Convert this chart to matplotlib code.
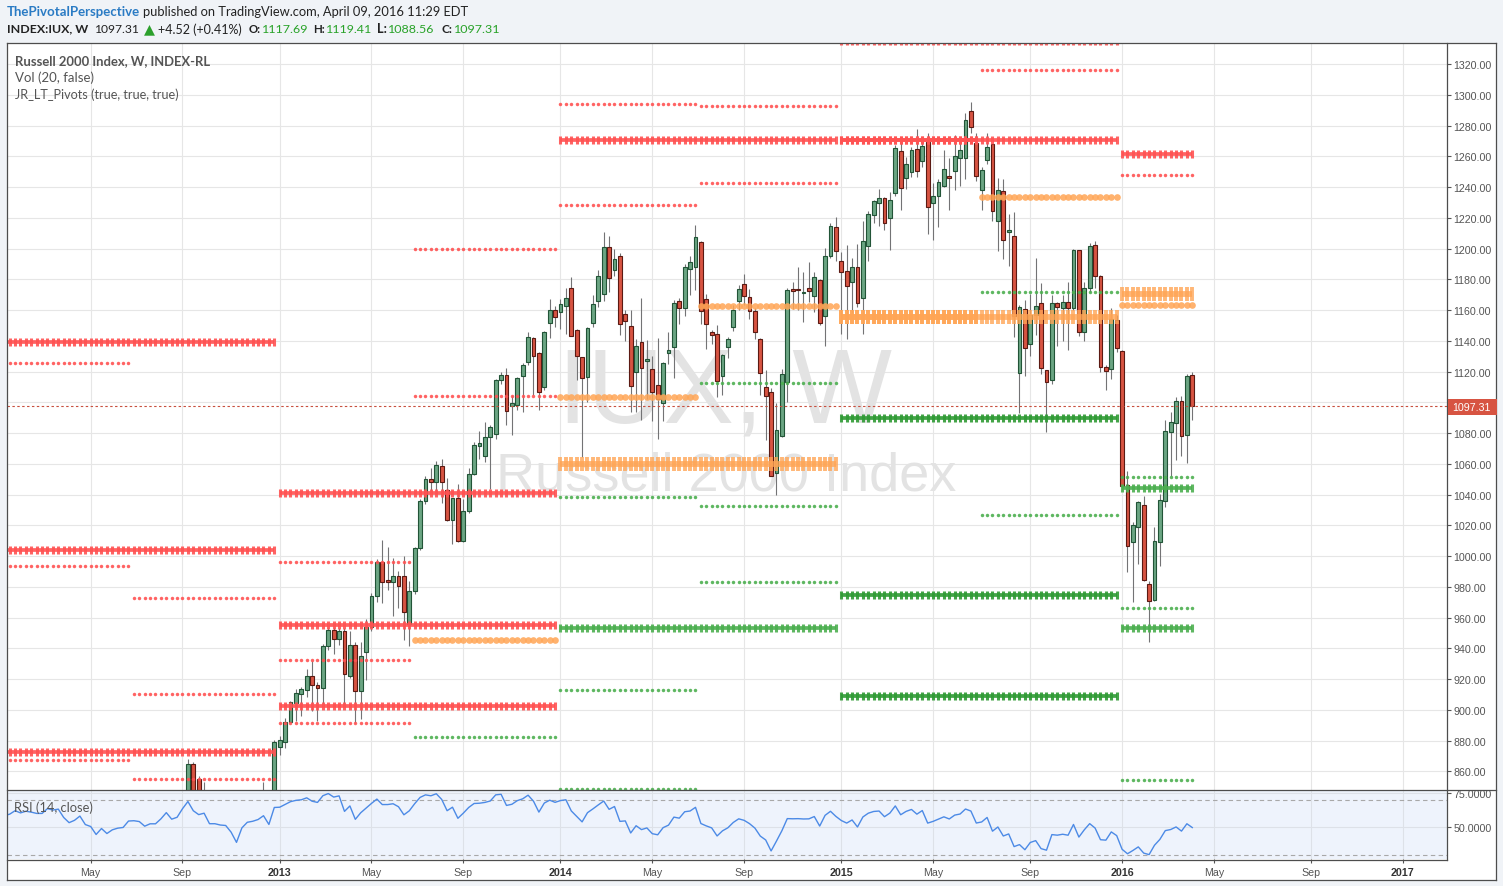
import numpy as np
import pandas as pd
import matplotlib
matplotlib.use("Agg")
import matplotlib.pyplot as plt
from matplotlib.patches import Rectangle
from matplotlib.lines import Line2D

plt.rcParams['font.family'] = ['Liberation Sans', 'DejaVu Sans']

# ------------------------------------------------------------------ data
first_bar_date = "2012-01-16"          # weekly bars (Monday dated)

opens = [
    # 2012 (Jan 16 .. Dec 24)
    769, 785, 793, 814, 806, 815, 812, 808, 808, 830, 826, 830, 808, 793, 801, 816, 792, 786, 760, 778,
    761, 772, 777, 779, 798, 799, 797, 786, 792, 792, 804, 821, 808, 813, 838, 864.7, 855, 838, 842, 818,
    818, 815, 814, 799, 771, 805, 821, 824, 830, 838,
    # Dec 31 2012 ..
    820, 875.6, 879.3, 892.3, 904.4, 910.5, 913.2, 922.2, 916.1, 914.0, 941.7, 951.9, 946.0, 951.1, 922.2,
    942.3, 912.0, 937.4, 954.0, 974.2, 995.9, 983.8, 983.3, 986.8, 986.8, 955.8, 977.0, 1005.0, 1035.6,
    1049.9, 1048.0, 1058.4, 1042.9, 1023.6, 1037.5, 1010.0, 1029.1, 1053.3, 1071.8, 1064.9, 1077.2, 1079.2,
    1114.7, 1117.7, 1097.8, 1098.5, 1117.3, 1126.0, 1141.6, 1131.8, 1109.7, 1151.6, 1159.8,
    # 2014
    1158.5, 1162.4, 1174.0, 1147.0, 1129.2, 1116.2, 1151.4, 1165.7, 1170.4, 1201.0, 1186.2, 1195.0, 1157.2,
    1149.4, 1119.9, 1139.0, 1126.6, 1121.6, 1111.2, 1099.5, 1131.8, 1135.8, 1165.7, 1161.1, 1187.0, 1187.8,
    1204.0, 1167.2, 1145.5, 1144.4, 1117.3, 1135.7, 1148.8, 1166.1, 1176.7, 1168.3, 1159.2, 1141.1, 1109.7,
    1106.4, 1053.8, 1077.9, 1113.0, 1173.7, 1173.3, 1170.9, 1174.1, 1169.3, 1179.5, 1156.3, 1195.0, 1213.8,
    # 2015
    1191.6, 1185.6, 1178.0, 1187.8, 1167.6, 1201.4, 1222.0, 1229.4, 1232.7, 1219.6, 1235.9, 1263.2, 1245.7,
    1249.6, 1264.7, 1256.7, 1269.1, 1229.4, 1234.0, 1240.9, 1247.2, 1250.6, 1258.7, 1258.7, 1289.2, 1268.4,
    1238.3, 1257.8, 1267.8, 1218.1, 1237.2, 1211.0, 1208.3, 1118.8, 1160.7, 1138.1, 1156.9, 1164.4, 1120.8,
    1114.7, 1164.4, 1161.1, 1165.0, 1161.1, 1198.8, 1145.5, 1174.1, 1202.1, 1182.0, 1122.8, 1121.6, 1153.5,
    # 2016
    1133.2, 1046.2, 1009.4, 1018.7, 1033.0, 981.6, 971.6, 1009.4, 1035.9, 1080.5, 1086.3, 1100.6, 1078.9,
    1117.69,
]
highs = [
    788, 798, 816, 818, 818, 822, 822, 812, 831, 833, 846, 833, 810, 810, 820, 826, 795, 790, 780, 782,
    776, 785, 794, 800, 812, 802, 807, 795, 800, 806, 822, 825, 818, 840, 868, 866, 857, 853, 843, 838,
    822, 826, 826, 804, 806, 825, 828, 840, 853, 841,
    880.5, 882.8, 894.5, 906.0, 913.4, 915.0, 926.8, 931.6, 918.0, 942.5, 953.6, 953.6, 953.0, 953.0, 951.0,
    944.4, 944.0, 958.9, 976.0, 998.0, 1010.3, 1006.0, 998.6, 990.0, 1000.0, 984.0, 1006.0, 1037.0, 1052.0,
    1057.0, 1062.0, 1063.3, 1051.0, 1038.0, 1047.0, 1037.0, 1057.3, 1074.0, 1081.5, 1087.0, 1085.0, 1115.0,
    1120.0, 1122.5, 1104.0, 1116.5, 1125.7, 1146.0, 1142.6, 1133.0, 1146.3, 1167.0, 1162.6,
    1167.0, 1174.0, 1181.2, 1147.5, 1129.5, 1148.9, 1170.0, 1186.0, 1211.0, 1208.0, 1199.5, 1197.0, 1160.0,
    1160.0, 1141.0, 1167.7, 1140.5, 1129.8, 1141.5, 1126.0, 1145.6, 1166.5, 1167.6, 1190.0, 1195.0, 1215.0,
    1205.0, 1170.5, 1147.0, 1150.2, 1131.4, 1142.2, 1163.3, 1176.3, 1183.7, 1173.7, 1161.4, 1141.5, 1121.3,
    1109.0, 1099.5, 1121.7, 1174.1, 1177.9, 1187.7, 1184.6, 1191.0, 1184.6, 1180.0, 1200.6, 1216.7, 1220.3,
    1197.6, 1202.5, 1193.6, 1203.2, 1217.9, 1224.6, 1231.5, 1238.8, 1233.5, 1236.6, 1267.0, 1268.5, 1259.8,
    1265.8, 1277.7, 1272.3, 1275.2, 1242.9, 1244.9, 1264.1, 1258.7, 1273.6, 1270.0, 1287.9, 1295.5, 1275.2,
    1252.8, 1275.2, 1268.2, 1245.8, 1245.1, 1222.4, 1224.0, 1163.4, 1166.5, 1170.5, 1193.6, 1177.4, 1121.0,
    1169.9, 1165.0, 1169.5, 1178.1, 1199.5, 1199.0, 1178.1, 1203.6, 1204.8, 1182.5, 1124.0, 1161.4, 1157.0,
    1134.0, 1055.6, 1022.3, 1035.5, 1039.0, 983.7, 1018.8, 1040.3, 1088.2, 1093.9, 1103.6, 1104.2, 1118.2,
    1119.41,
]
lows = [
    768, 780, 788, 802, 800, 808, 804, 783, 805, 815, 820, 805, 778, 786, 792, 790, 776, 757, 750, 758,
    737, 758, 768, 768, 792, 778, 780, 767, 770, 788, 800, 805, 800, 806, 835, 843, 830, 830, 816, 815,
    802, 808, 795, 767, 770, 800, 810, 820, 826, 816,
    817.0, 870.6, 875.0, 892.0, 892.8, 896.0, 908.5, 899.4, 892.8, 904.0, 939.0, 936.6, 942.0, 903.3, 920.4,
    891.6, 894.0, 919.7, 951.0, 970.0, 969.5, 977.6, 961.0, 966.4, 945.6, 941.3, 975.0, 1004.0, 1034.0,
    1041.0, 1041.0, 1034.8, 1023.0, 1008.0, 1009.0, 1009.0, 1028.0, 1053.0, 1063.0, 1061.0, 1043.3, 1076.0,
    1112.0, 1085.2, 1079.0, 1095.0, 1094.0, 1124.0, 1105.0, 1095.3, 1108.0, 1141.8, 1149.0,
    1147.6, 1144.5, 1143.0, 1114.5, 1064.3, 1100.4, 1148.7, 1162.0, 1166.0, 1171.5, 1182.0, 1144.0, 1140.0,
    1094.0, 1094.0, 1088.3, 1102.0, 1087.6, 1076.0, 1087.9, 1125.0, 1116.0, 1150.8, 1156.0, 1170.0, 1173.0,
    1151.2, 1134.7, 1138.0, 1103.4, 1105.0, 1129.0, 1146.5, 1159.8, 1163.4, 1154.1, 1141.1, 1105.0, 1075.6,
    1052.0, 1040.0, 1077.5, 1100.0, 1160.9, 1160.0, 1152.3, 1165.0, 1159.0, 1150.0, 1136.5, 1194.0, 1191.6,
    1144.4, 1141.1, 1158.1, 1162.0, 1144.4, 1191.6, 1216.7, 1214.8, 1212.0, 1199.1, 1234.0, 1224.9, 1238.5,
    1246.4, 1246.4, 1253.2, 1209.4, 1205.5, 1213.9, 1240.0, 1225.0, 1237.9, 1240.9, 1245.1, 1275.0, 1244.0,
    1224.9, 1255.0, 1218.0, 1198.2, 1193.2, 1188.5, 1142.7, 1093.2, 1117.3, 1130.0, 1144.0, 1118.6, 1080.5,
    1112.0, 1136.4, 1140.0, 1134.3, 1160.0, 1143.0, 1140.0, 1172.0, 1174.1, 1120.0, 1108.0, 1115.0, 1133.0,
    1043.0, 989.3, 970.3, 995.0, 984.0, 944.0, 971.0, 993.3, 1031.6, 1052.2, 1062.7, 1065.3, 1060.3,
    1088.56,
]
closes = [
    785, 793.7, 814, 806, 815, 812, 808, 808, 830, 826, 830, 808, 793, 801, 816, 792, 786, 760, 778, 761,
    772, 777, 779, 798, 799, 797, 786, 792, 792, 804, 821, 808, 813, 838, 864.7, 846, 837.5, 842, 818, 818,
    815, 814, 799, 771, 805, 821, 824, 829, 840, 820,
    879.2, 880.3, 892.3, 904.9, 910.9, 913.5, 922.2, 916.1, 914.0, 941.7, 951.9, 946.0, 951.1, 923.1, 942.3,
    912.0, 934.8, 953.6, 974.2, 995.9, 983.3, 983.4, 986.8, 980.7, 963.4, 977.0, 1005.0, 1035.6, 1049.9,
    1048.0, 1059.0, 1048.0, 1023.6, 1037.5, 1010.0, 1029.1, 1053.2, 1072.2, 1073.5, 1077.2, 1083.7, 1114.5,
    1117.7, 1094.5, 1099.5, 1115.6, 1124.0, 1142.2, 1130.3, 1106.4, 1145.5, 1160.2, 1155.3,
    1163.9, 1167.6, 1143.3, 1129.9, 1115.6, 1148.3, 1163.9, 1181.9, 1201.0, 1180.6, 1193.2, 1150.9, 1152.7,
    1110.4, 1136.8, 1122.1, 1128.1, 1106.4, 1102.1, 1125.3, 1134.0, 1164.4, 1161.3, 1187.8, 1191.0, 1207.3,
    1159.2, 1150.9, 1144.0, 1114.0, 1130.7, 1141.1, 1160.0, 1173.7, 1169.3, 1159.6, 1146.0, 1118.8, 1103.9,
    1052.2, 1081.8, 1118.2, 1172.9, 1172.2, 1172.8, 1171.7, 1172.2, 1181.2, 1151.4, 1195.0, 1214.5, 1198.2,
    1184.5, 1175.8, 1187.8, 1164.4, 1204.7, 1222.4, 1230.7, 1232.7, 1216.4, 1231.4, 1265.2, 1239.2, 1254.8,
    1264.1, 1250.6, 1266.5, 1227.2, 1234.0, 1243.1, 1251.8, 1245.7, 1260.0, 1264.1, 1283.6, 1278.8, 1247.4,
    1250.9, 1265.8, 1224.6, 1238.0, 1205.7, 1212.0, 1155.9, 1161.8, 1135.1, 1156.7, 1162.4, 1122.1, 1113.4,
    1164.4, 1161.8, 1165.0, 1161.1, 1198.8, 1145.5, 1174.1, 1201.4, 1182.4, 1122.8, 1120.2, 1154.2, 1135.1,
    1045.4, 1006.8, 1020.2, 1035.0, 984.6, 970.9, 1009.6, 1036.4, 1081.1, 1086.9, 1100.6, 1078.3, 1116.9,
    1097.31,
]
# weekly closes before the first drawn bar (Aug 2011 .. Jan 2012), used to seed RSI(14)
rsi_warmup_closes = [714, 695, 656, 698, 695, 680, 712, 652, 644, 658, 712, 712, 761, 741, 748, 720,
                     666, 742, 736, 718, 749, 741, 754, 769]

# pivot periods (first and last weekly bar) and levels: R/P/S yearly, r/p/s half-year
pivot_periods = {
    "2012": ("2012-01-16", "2012-12-31"), "2012H1": ("2012-01-16", "2012-06-25"),
    "2012H2": ("2012-07-02", "2012-12-31"),
    "2013": ("2013-01-07", "2013-12-30"), "2013H1": ("2013-01-07", "2013-06-24"),
    "2013H2": ("2013-07-01", "2013-12-30"),
    "2014": ("2014-01-06", "2014-12-29"), "2014H1": ("2014-01-06", "2014-06-30"),
    "2014H2": ("2014-07-07", "2014-12-29"),
    "2015": ("2015-01-05", "2015-12-28"), "2015H1": ("2015-01-05", "2015-06-29"),
    "2015H2": ("2015-07-06", "2015-12-28"),
    "2016": ("2016-01-04", "2016-04-04"), "2016H1": ("2016-01-04", "2016-04-04"),
}
pivot_levels = [
    ("2012", "R", 1139.0), ("2012", "R", 1003.9), ("2012", "R", 872.6),
    ("2012H1", "r", 1125.3), ("2012H1", "r", 993.3), ("2012H1", "r", 867.2),
    ("2012H2", "r", 972.5), ("2012H2", "r", 910.0), ("2012H2", "r", 855.0),
    ("2013", "R", 1040.8), ("2013", "R", 955.1), ("2013", "R", 902.6),
    ("2013H1", "r", 995.9), ("2013H1", "r", 932.4), ("2013H1", "r", 891.3),
    ("2013H2", "r", 1199.7), ("2013H2", "r", 1104.3), ("2013H2", "p", 945.4), ("2013H2", "s", 882.1),
    ("2014", "R", 1270.8), ("2014", "P", 1059.9), ("2014", "S", 953.3),
    ("2014H1", "r", 1294.0), ("2014H1", "r", 1228.3), ("2014H1", "p", 1103.2),
    ("2014H1", "s", 1038.5), ("2014H1", "s", 913.2), ("2014H1", "s", 848.3),
    ("2014H2", "r", 1292.5), ("2014H2", "r", 1242.4), ("2014H2", "p", 1162.4),
    ("2014H2", "s", 1112.3), ("2014H2", "s", 1032.3), ("2014H2", "s", 983.2),
    ("2015", "R", 1335.0), ("2015", "R", 1270.6), ("2015", "P", 1155.3),
    ("2015", "S", 1089.6), ("2015", "S", 974.6), ("2015", "S", 909.2),
    ("2015H1", "R", 1270.6), ("2015H1", "P", 1155.3),
    ("2015H2", "r", 1316.1), ("2015H2", "p", 1233.3), ("2015H2", "s", 1171.5), ("2015H2", "s", 1026.7),
    ("2016", "R", 1261.5), ("2016", "P", 1170.4), ("2016", "S", 1044.1), ("2016", "S", 953.0),
    ("2016H1", "r", 1247.8), ("2016H1", "p", 1163.3), ("2016H1", "s", 1051.2),
    ("2016H1", "s", 966.0), ("2016H1", "s", 854.3),
]

price_ticks = list(range(860, 1321, 20))
rsi_ticks = [50, 75]
month_ticks = ["2012-05", "2012-09", "2013-01", "2013-05", "2013-09", "2014-01", "2014-05", "2014-09",
               "2015-01", "2015-05", "2015-09", "2016-01", "2016-05", "2016-09", "2017-01"]
last_price = 1097.31

header_author = "ThePivotalPerspective"
header_pub = "published on TradingView.com, April 09, 2016 11:29 EDT"
header_symbol = "INDEX:IUX, W"
header_last = "1097.31"
header_change = "+4.52 (+0.41%)"
header_ohlc = [("O:", "1117.69"), ("H:", "1119.41"), ("L:", "1088.56"), ("C:", "1097.31")]
legend_lines = ["Russell 2000 Index, W, INDEX-RL", "Vol (20, false)", "JR_LT_Pivots (true, true, true)"]
rsi_title = "RSI (14, close)"
watermark_big = "IUX, W"
watermark_small = "Russell 2000 Index"

# ------------------------------------------------------------------ layout
W, H = 1503, 887
fig = plt.figure(figsize=(W / 100, H / 100), dpi=100)
fig.patch.set_facecolor("#f0f3f7")


def fx(x):
    return x / W


def fy(y):
    return 1 - y / H


fig.patches.append(Rectangle((fx(6.5), fy(880.5)), (1495.5 - 6.5) / W, (880.5 - 43.5) / H,
                             transform=fig.transFigure, facecolor="white", edgecolor="none", zorder=-5))

ax = fig.add_axes([fx(7), fy(791), (1447 - 7) / W, (791 - 44) / H])
axr = fig.add_axes([fx(7), fy(860), (1447 - 7) / W, (860 - 791) / H])

n = len(closes)
xs = np.arange(n)
dates = pd.date_range(first_bar_date, periods=n, freq="W-MON")
future_dates = pd.date_range(first_bar_date, periods=n + 120, freq="W-MON")
XL = (0.5, 267.17)

O = np.array(opens, float)
Hh = np.array(highs, float)
L = np.array(lows, float)
C = np.array(closes, float)

# candles
UPC, DNC, UPE, DNE, WICK = "#6ba583", "#d75442", "#225437", "#5b1a13", "#737375"
up = C >= O
ax.vlines(xs, L, Hh, color=WICK, lw=0.8, zorder=2)
body_lo = np.minimum(O, C)
body_h = np.maximum(np.abs(C - O), 0.7)
ax.bar(xs, body_h, bottom=body_lo, width=0.72,
       color=[UPC if u else DNC for u in up], edgecolor=[UPE if u else DNE for u in up],
       linewidth=0.8, zorder=3)

# pivots
RED, ORANGE, GREEN, DKGREEN = "#ff5252", "#ffa555", "#4caf50", "#2f9a34"
for period, kind, price in pivot_levels:
    a, b = pivot_periods[period]
    ia = dates.get_loc(pd.Timestamp(a))
    ib = dates.get_loc(pd.Timestamp(b))
    px = np.arange(ia, ib + 1)
    py = np.full(len(px), price)
    if kind in "RS":
        col = RED if kind == "R" else (DKGREEN if period == "2015" else GREEN)
        ax.plot(px, py, color=col, lw=2.7, marker="|", ms=6.0, mew=2.2, alpha=0.9,
                solid_capstyle="butt", zorder=5)
    elif kind == "P":
        ax.plot(px, py, color=ORANGE, lw=4.2, marker="|", ms=10.0, mew=2.8, alpha=0.8,
                solid_capstyle="butt", zorder=5)
    elif kind == "p":
        ax.plot(px, py, ls="none", marker="o", ms=4.8, mec="none", color=ORANGE, alpha=0.85, zorder=5)
    else:
        col = RED if kind == "r" else GREEN
        ax.plot(px, py, ls="none", marker="o", ms=2.5, mec="none", color=col, alpha=0.9, zorder=5)

# last price line
ax.axhline(last_price, color="#c8503f", lw=0.8, ls=(0, (2.2, 2.2)), zorder=6)

# watermark
ax.text(fx(725), fy(423), watermark_big, transform=fig.transFigure, ha="center", va="baseline",
        fontsize=76, color="#e3e3e3", family="Liberation Sans", zorder=1)
ax.text(fx(726), fy(491), watermark_small, transform=fig.transFigure, ha="center", va="baseline",
        fontsize=39, color="#e3e3e3", family="Liberation Sans", zorder=1)

# month positions
mpos, mlab, myear = [], [], []
for m in month_ticks:
    ts = pd.Timestamp(m + "-01")
    idx = int(np.argmax(future_dates >= ts))
    mpos.append(idx)
    if ts.month == 1:
        mlab.append(str(ts.year))
        myear.append(True)
    else:
        mlab.append(ts.strftime("%b"))
        myear.append(False)

GRID = "#e6e6e6"
ax.set_xlim(*XL)
ax.set_ylim(847.84, 1333.66)
ax.set_xticks(mpos)
ax.set_yticks(price_ticks)
# the last-price tag covers the nearest axis label, as on the original
ax.set_yticklabels(["" if abs(v - last_price) < 8 else f"{v:.2f}" for v in price_ticks])
ax.grid(True, color=GRID, lw=0.8, zorder=0)
ax.set_axisbelow(True)
ax.tick_params(axis="x", length=0, labelbottom=False)
ax.tick_params(axis="y", left=False, labelleft=False, right=True, labelright=True, length=3,
               width=0.8, color="#555555", labelsize=7.7, labelcolor="#555555", pad=1.5)
for s in ax.spines.values():
    s.set_visible(False)

# RSI(14) (Wilder) from closes
allc = np.array(rsi_warmup_closes + closes, float)
d = np.diff(allc)
g = np.where(d > 0, d, 0.0)
lo = np.where(d < 0, -d, 0.0)
N = 14
ag, al = g[:N].mean(), lo[:N].mean()
rsi_all = np.full(len(allc), np.nan)
rsi_all[N] = 100 - 100 / (1 + ag / al)
for i in range(N, len(d)):
    ag = (ag * (N - 1) + g[i]) / N
    al = (al * (N - 1) + lo[i]) / N
    rsi_all[i + 1] = 100 - 100 / (1 + ag / al)
rsi = rsi_all[len(rsi_warmup_closes):]

axr.set_facecolor("#eef3fc")
axr.plot(xs, rsi, color="#4c8ae6", lw=1.0, zorder=4)
for lvl in (70, 30):
    axr.axhline(lvl, color="#a8a8a8", lw=0.8, ls=(0, (4, 3)), zorder=2)
axr.set_xlim(*XL)
axr.set_ylim(27.08, 76.97)
axr.set_yticks(rsi_ticks)
axr.set_yticklabels([f"{v:.4f}" for v in rsi_ticks])
axr.set_xticks(mpos)
axr.set_xticklabels(mlab)
axr.grid(True, color="#dde1e8", lw=0.8, zorder=0)
axr.set_axisbelow(True)
axr.tick_params(axis="y", left=False, labelleft=False, right=True, labelright=True, length=3,
                width=0.8, color="#555555", labelsize=7.7, labelcolor="#555555", pad=1.5)
axr.tick_params(axis="x", length=3, width=0.8, color="#555555", labelsize=7.7, labelcolor="#555555", pad=2.5)
for lab, isy in zip(axr.get_xticklabels(), myear):
    if isy:
        lab.set_fontweight("bold")
        lab.set_color("#333333")
for s in axr.spines.values():
    s.set_visible(False)

# frame lines
LC = "#4d4d4d"


def fline(x0, y0, x1, y1, lw=0.9):
    fig.add_artist(Line2D([fx(x0), fx(x1)], [fy(y0), fy(y1)], transform=fig.transFigure,
                          color=LC, lw=lw, zorder=20))


fline(6.5, 43.5, 1495.5, 43.5)
fline(6.5, 880.5, 1495.5, 880.5)
fline(6.5, 43.5, 6.5, 880.5)
fline(1495.5, 43.5, 1495.5, 880.5)
fline(6.5, 791, 1495.5, 791)
fline(1447, 43.5, 1447, 860.5)
fline(6.5, 860.5, 1447, 860.5)

# last price tag
fig.add_artist(Rectangle((fx(1447.5), fy(416)), 49 / W, 16 / H, transform=fig.transFigure,
                         facecolor="#d75442", edgecolor="none", zorder=21))
fig.text(fx(1452.5), fy(408.3), f"{last_price:.2f}", color="white", fontsize=7.7, va="center",
         ha="left", family="Liberation Sans", zorder=22)

# texts
fig.canvas.draw()
renderer = fig.canvas.get_renderer()
HF = ["Lato", "DejaVu Sans"]


def put(x, y, s, width=None, size=9.0, **kw):
    t = fig.text(fx(x), fy(y), s, fontsize=size, va="center", ha="left", family=HF, zorder=25, **kw)
    if width:
        w = t.get_window_extent(renderer).width
        if w > 0:
            t.set_fontsize(size * width / w)
    return t


BLK = "#222222"
GRN = "#28a228"
put(6.7, 11.5, header_author, width=132.6, color="#2a7bc4", fontweight="bold")
put(142.7, 11.5, header_pub, width=326.6, color=BLK)
put(6.7, 29.3, header_symbol, width=81.6, color=BLK, fontweight="bold")
put(94.3, 29.3, header_last, width=45, color=BLK)
put(144, 29.3, "\u25b2", width=11, color="#2ca02c")
put(157.7, 29.3, header_change, width=84, color=BLK)
ohlc_x = [(248.3, 261.7), (313, 326), (376.7, 387.7), (441.7, 454)]
for (lab, val), (xl, xv) in zip(header_ohlc, ohlc_x):
    put(xl, 29.3, lab, width=xv - xl - 1.2, color=BLK, fontweight="bold")
    put(xv, 29.3, val, width=46.4, color=GRN)

put(15, 61, legend_lines[0], width=195, color="#555555", fontweight="bold")
put(15, 78, legend_lines[1], width=79.3, color="#555555")
put(15, 95, legend_lines[2], width=163.3, color="#555555")
put(14.5, 807.3, rsi_title, width=79, color="#555555")

fig.savefig("out.png", dpi=100)
